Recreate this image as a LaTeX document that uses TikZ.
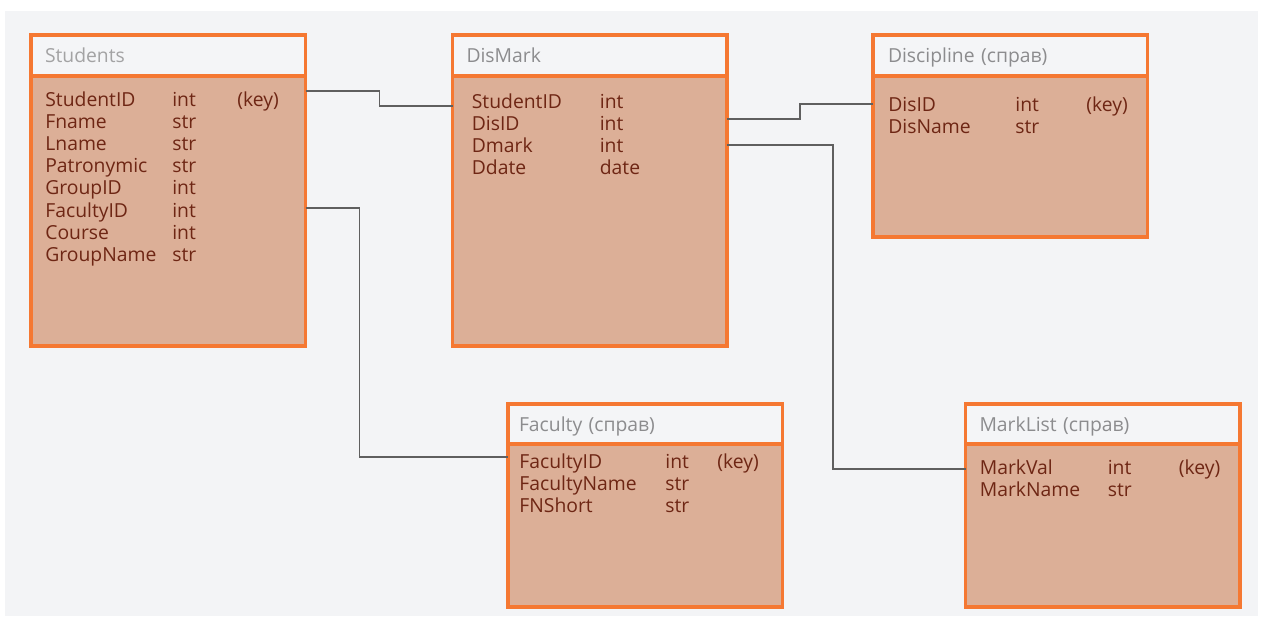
\documentclass[tikz,border=0pt]{standalone}
\usepackage{fontspec}
\setmainfont{Open Sans}
\usetikzlibrary{positioning}
\definecolor{tblorange}{RGB}{245,120,50}
\definecolor{tblbody}{RGB}{220,175,151}
\definecolor{tblhead}{RGB}{244,245,247}
\definecolor{titlegrey}{RGB}{140,140,142}
\definecolor{fieldbrown}{RGB}{110,38,20}
\definecolor{canvas}{RGB}{243,244,246}
\definecolor{linkgrey}{RGB}{95,95,95}

\begin{document}
\begin{tikzpicture}[
  every node/.style={font=\fontsize{11}{12.6}\selectfont},
  hdr/.style={draw=tblorange,fill=tblhead,line width=2pt,outer sep=0pt,inner xsep=0.28cm,
              minimum width=5.49cm,minimum height=0.82cm,text width=4.93cm,align=left,
              text height=9.4pt,text depth=1pt,text=titlegrey},
  body/.style={draw=tblorange,fill=tblbody,line width=2pt,outer sep=0pt,minimum width=5.49cm},
  fields/.style={anchor=north west,inner sep=0pt,text=fieldbrown},
  link/.style={draw=linkgrey,line width=0.8pt}]
\useasboundingbox (0,0) rectangle (25.26,-12.38);
\fill[canvas] (0.10,-0.22) rectangle (25.16,-12.32);

\node[hdr,anchor=north west,text=titlegrey!80] (stu-h) at (0.62,-0.70) {Students};
\node[body,minimum height=5.40cm,below=0pt of stu-h] (stu) {};
\node[fields] (stu-f) at ([xshift=0.28cm,yshift=-0.29cm]stu.north west) {%
  \begin{tabular}{@{}p{2.54cm}@{}p{1.30cm}@{}l@{}}
  StudentID & int & (key)\\ Fname & str\\ Lname & str\\ Patronymic & str\\
  GroupID & int\\ FacultyID & int\\ Course & int\\ GroupName & str
  \end{tabular}};

\node[hdr,right=2.94cm of stu-h] (dm-h) {DisMark};
\node[body,minimum height=5.40cm,below=0pt of dm-h] (dm) {};
\node[fields] (dm-f) at ([xshift=0.38cm,yshift=-0.33cm]dm.north west) {%
  \begin{tabular}{@{}p{2.56cm}@{}l@{}}
  StudentID & int\\ DisID & int\\ Dmark & int\\ Ddate & date
  \end{tabular}};

\node[hdr,inner xsep=0.30cm,text width=4.89cm,right=2.92cm of dm-h] (dis-h) {Discipline (справ)};
\node[body,minimum height=3.22cm,below=0pt of dis-h] (dis) {};
\node[fields] (dis-f) at ([xshift=0.30cm,yshift=-0.39cm]dis.north west) {%
  \begin{tabular}{@{}p{2.54cm}@{}p{1.42cm}@{}l@{}}
  DisID & int & (key)\\ DisName & str
  \end{tabular}};

\node[hdr,inner xsep=0.22cm,text width=5.05cm,minimum height=0.80cm,anchor=north west] (fac-h) at (10.16,-8.08) {Faculty (справ)};
\node[body,minimum height=3.26cm,below=0pt of fac-h] (fac) {};
\node[fields] (fac-f) at ([xshift=0.22cm,yshift=-0.17cm]fac.north west) {%
  \begin{tabular}{@{}p{2.92cm}@{}p{1.04cm}@{}l@{}}
  FacultyID & int & (key)\\ FacultyName & str\\ FNShort & str
  \end{tabular}};

\node[hdr,minimum height=0.80cm,right=3.66cm of fac-h] (ml-h) {MarkList (справ)};
\node[body,minimum height=3.26cm,below=0pt of ml-h] (ml) {};
\node[fields] (ml-f) at ([xshift=0.28cm,yshift=-0.29cm]ml.north west) {%
  \begin{tabular}{@{}p{2.56cm}@{}p{1.42cm}@{}l@{}}
  MarkVal & int & (key)\\ MarkName & str
  \end{tabular}};

\draw[link] ([yshift=-0.30cm]stu.north east) -- ++(1.48,0) |- ([yshift=-0.60cm]dm.north west);
\draw[link] ([yshift=-2.64cm]stu.north east) -- ++(1.08,0) |- ([yshift=-0.26cm]fac.north west);
\draw[link] ([yshift=-0.86cm]dm.north east) -- ++(1.46,0) |- ([yshift=-0.56cm]dis.north west);
\draw[link] ([yshift=-1.38cm]dm.north east) -- ++(2.12,0) |- ([yshift=-0.50cm]ml.north west);
\end{tikzpicture}
\end{document}
